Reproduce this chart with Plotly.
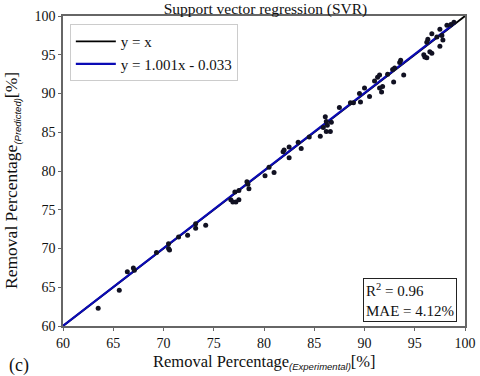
import plotly.graph_objects as go

experimental = [63.5, 65.6, 66.4, 67.0, 67.1, 69.3, 70.5, 70.5, 70.6, 71.5,
                72.4, 73.2, 73.2, 74.2, 76.7, 76.9, 77.2, 77.5, 77.1, 77.5,
                78.3, 78.4, 78.5, 80.1, 80.5, 81.0, 81.9, 82.0, 82.5, 82.5,
                83.4, 83.7, 84.5, 85.6, 85.9, 86.1, 86.2, 86.2, 86.3, 86.6,
                86.7, 87.5, 88.6, 88.9, 89.5, 89.6, 90.0, 90.5, 91.0, 91.3,
                91.5, 91.5, 91.7, 91.8, 92.3, 92.8, 92.9, 93.0, 93.5, 93.6,
                93.9, 95.9, 96.0, 96.2, 96.2, 96.3, 96.5, 96.7, 96.7, 97.2,
                97.5, 97.5, 97.7, 97.8, 98.2, 98.6, 98.9]
predicted = [62.3, 64.6, 67.0, 67.5, 67.2, 69.5, 70.6, 70.0, 69.8, 71.5,
             71.7, 73.2, 72.6, 73.0, 76.3, 76.0, 76.0, 76.3, 77.3, 77.5,
             78.6, 78.3, 77.7, 79.4, 80.5, 79.8, 82.5, 82.7, 83.1, 81.7,
             83.7, 82.9, 84.4, 84.5, 85.6, 87.0, 86.4, 85.1, 85.9, 85.1,
             86.3, 88.2, 88.8, 88.8, 90.0, 88.9, 90.7, 89.6, 91.6, 92.1,
             92.4, 90.7, 90.2, 90.9, 92.5, 93.1, 91.5, 93.3, 94.0, 94.3,
             92.4, 95.0, 94.7, 94.6, 96.6, 97.0, 95.4, 97.7, 95.2, 97.3,
             98.3, 96.1, 97.5, 96.9, 98.8, 98.9, 99.2]

identity_x = [60, 100]
slope, intercept = 1.001, -0.033
fit_x = [60, 99]
fit_y = [slope * v + intercept for v in fit_x]
tick_vals = [60, 65, 70, 75, 80, 85, 90, 95, 100]

FONT = "Liberation Serif, Times New Roman, serif"

fig = go.Figure()
fig.add_trace(go.Scatter(x=identity_x, y=identity_x, mode="lines",
                         line=dict(color="black", width=1.8), name="y = x"))
fig.add_trace(go.Scatter(x=fit_x, y=fit_y, mode="lines",
                         line=dict(color="#0b0bb5", width=2.2),
                         name="y = 1.001x - 0.033"))
fig.add_trace(go.Scatter(x=experimental, y=predicted, mode="markers",
                         marker=dict(color="#111122", size=5),
                         showlegend=False))

axis_common = dict(range=[60, 100], tickvals=tick_vals, showgrid=False,
                   zeroline=False, showline=True, linecolor="#666",
                   linewidth=1.5, mirror=True, ticks="outside", ticklen=3,
                   tickcolor="#666", automargin=False,
                   tickfont=dict(family=FONT, size=14, color="#111"))

fig.update_layout(
    width=480, height=376,
    margin=dict(l=63, r=15, t=16, b=50),
    paper_bgcolor="white", plot_bgcolor="white",
    font=dict(family=FONT, color="#111"),
    title=dict(text="Support vector regression (SVR)", x=0.553, xanchor="center",
               y=0.978, yanchor="middle", font=dict(family=FONT, size=15.5)),
    xaxis=dict(**axis_common),
    yaxis=dict(**axis_common),
    showlegend=True,
    legend=dict(x=0.017, y=0.974, xanchor="left", yanchor="top",
                bgcolor="white", bordercolor="#cccccc", borderwidth=1,
                itemwidth=40,
                font=dict(family=FONT, size=15), tracegroupgap=0),
)

def sub(txt):
    return ("<sub><span style=\"font-family:'Liberation Sans';font-size:9.5px\"><i>"
            + txt + "</i></span></sub>")

fig.add_annotation(xref="paper", yref="paper", x=0.502, y=-0.117,
                   xanchor="center", yanchor="middle", showarrow=False,
                   text="Removal Percentage" + sub("(Experimental)") + "[%]",
                   font=dict(family=FONT, size=16.5))
fig.add_annotation(xref="paper", yref="paper", x=-0.127, y=0.471,
                   xanchor="center", yanchor="middle", showarrow=False, textangle=-90,
                   text="Removal Percentage" + sub("(Predicted)") + "[%]",
                   font=dict(family=FONT, size=17.5))
fig.add_annotation(xref="paper", yref="paper", x=0.98, y=0.013,
                   xanchor="right", yanchor="bottom", showarrow=False, align="left",
                   text="R<sup>2</sup> = 0.96<br>MAE = 4.12%",
                   bordercolor="#222", borderwidth=1, borderpad=2, bgcolor="white",
                   font=dict(family=FONT, size=15))
fig.add_annotation(xref="paper", yref="paper", x=-0.139, y=-0.128,
                   xanchor="left", yanchor="middle", showarrow=False,
                   text="(c)", font=dict(family=FONT, size=18))

fig.write_html("out.html", config={"displayModeBar": False},
               post_script="document.body.style.margin='0';")
